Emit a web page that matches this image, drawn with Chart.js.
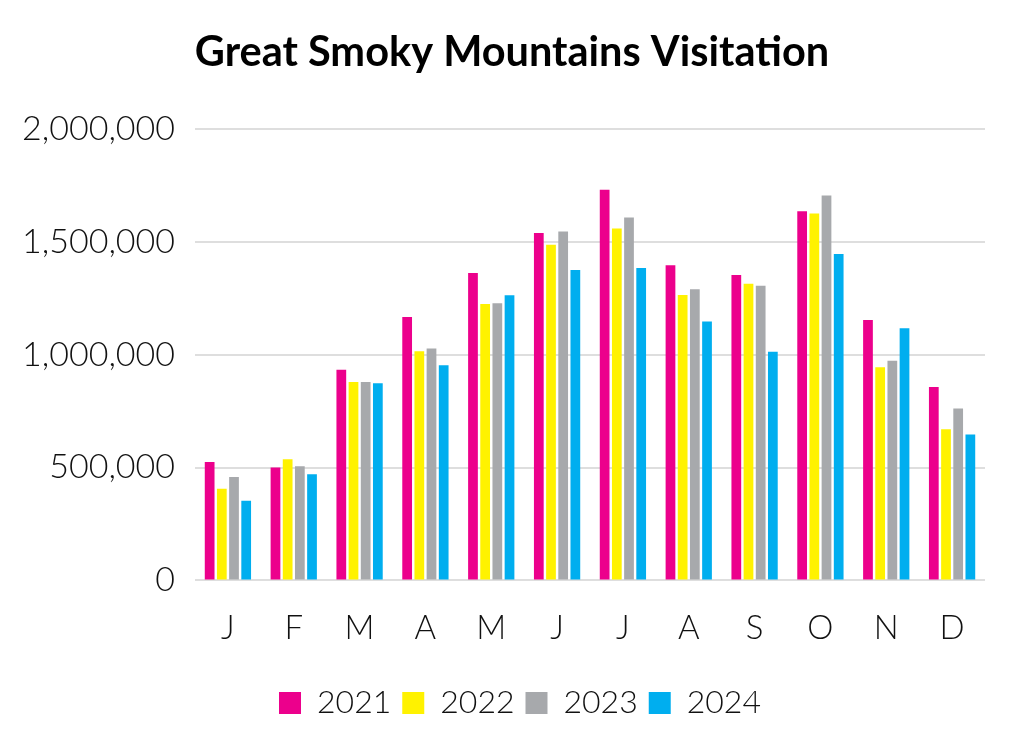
<!DOCTYPE html>
<html>
<head>
<meta charset="utf-8">
<script src="https://cdn.jsdelivr.net/npm/chart.js@4"></script>
<style>
  html, body { margin: 0; padding: 0; background: #ffffff; }
  #wrap { width: 1024px; height: 745px; }
</style>
</head>
<body>
<div id="wrap"><canvas id="c" width="1024" height="745"></canvas></div>
<script>
const months = ["J","F","M","A","M","J","J","A","S","O","N","D"];
const seriesNames = ["2021","2022","2023","2024"];
const v2021 = [524000, 500000, 933000, 1167000, 1361000, 1539000, 1730000, 1396000, 1352000, 1635000, 1153000, 856000];
const v2022 = [406000, 536000, 879000, 1015000, 1224000, 1487000, 1558000, 1264000, 1314000, 1625000, 944000, 669000];
const v2023 = [458000, 506000, 879000, 1027000, 1227000, 1545000, 1607000, 1289000, 1305000, 1705000, 973000, 761000];
const v2024 = [353000, 470000, 873000, 953000, 1263000, 1375000, 1383000, 1147000, 1013000, 1445000, 1117000, 646000];
const colors = ["#EC008C", "#FFF200", "#A7A9AC", "#00AEEF"];
const yTicks = [0, 500000, 1000000, 1500000, 2000000];

const allSeries = [v2021, v2022, v2023, v2024];

// re-center title and legend horizontally after layout
const recenter = {
  id: 'recenter',
  afterLayout(chart) {
    if (chart.titleBlock) { chart.titleBlock.left = 39; chart.titleBlock.right = 985; }
    if (chart.legend) { chart.legend.left = 55; chart.legend.right = 985; }
  }
};

new Chart(document.getElementById('c'), {
  type: 'bar',
  data: {
    labels: months,
    datasets: allSeries.map((d, i) => ({
      label: seriesNames[i],
      data: d,
      backgroundColor: colors[i],
      borderWidth: 0,
      categoryPercentage: 0.74,
      barPercentage: 0.8
    }))
  },
  plugins: [recenter],
  options: {
    responsive: false,
    devicePixelRatio: 1,
    animation: false,
    layout: { padding: { left: 0, right: 39, top: 28, bottom: 16 } },
    plugins: {
      title: {
        display: true,
        text: "Great Smoky Mountains Visitation",
        color: "#000000",
        font: { family: "Lato", size: 41.5, weight: "bold" },
        padding: { top: 0, bottom: 51 }
      },
      legend: {
        position: 'bottom',
        labels: {
          color: "#111111",
          boxWidth: 22,
          boxHeight: 22,
          padding: 11,
          font: { family: "Lato", size: 32, weight: 300 }
        }
      },
      tooltip: { enabled: false }
    },
    scales: {
      x: {
        grid: { display: false, drawTicks: false },
        border: { display: false },
        ticks: { color: "#111111", padding: 28, font: { family: "Lato", size: 33, weight: 300 } }
      },
      y: {
        min: 0,
        max: 2000000,
        afterBuildTicks: (axis) => { axis.ticks = yTicks.map(v => ({ value: v })); },
        afterFit: (axis) => { axis.width = 195; },
        grid: { color: "#dedede", lineWidth: 2, drawTicks: false },
        border: { display: false },
        ticks: {
          color: "#111111",
          padding: 20,
          font: { family: "Lato", size: 34, weight: 300 },
          callback: (v) => Number(v).toLocaleString('en-US')
        }
      }
    }
  }
});
</script>
</body>
</html>
